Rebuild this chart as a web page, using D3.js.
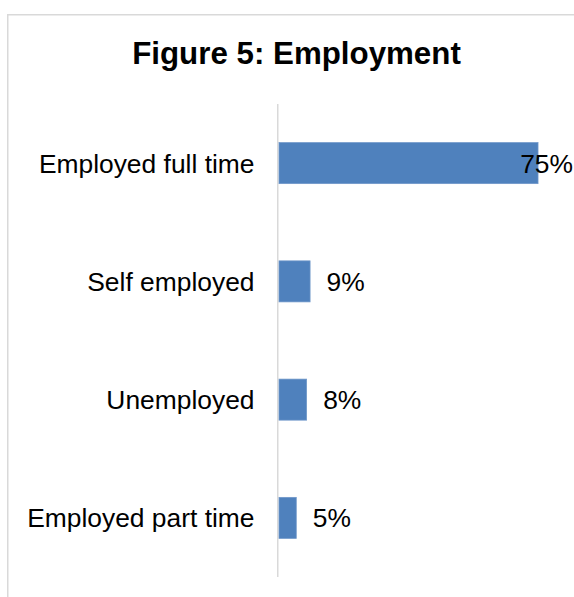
<!DOCTYPE html>
<html>
<head>
<meta charset="utf-8">
<script src="https://cdn.jsdelivr.net/npm/d3@7/dist/d3.min.js"></script>
<style>
  html, body { margin: 0; padding: 0; background: #fff; }
  svg { display: block; font-family: "Liberation Sans", Arial, sans-serif; }
</style>
</head>
<body>
<svg id="chart" width="574" height="597"></svg>
<script>
// Employment status shares
const categories = ["Employed full time", "Self employed", "Unemployed", "Employed part time"];
const shares = [0.75, 0.09, 0.08, 0.05];
const valueLabels = ["75%", "9%", "8%", "5%"];
const chartTitle = "Figure 5: Employment";

const W = 574, H = 597;
const svg = d3.select("#chart");

// chart frame
svg.append("rect")
  .attr("x", 7.75).attr("y", 14.75)
  .attr("width", 600).attr("height", 620)
  .attr("fill", "#fff")
  .attr("stroke", "#d9d9d9")
  .attr("stroke-width", 1.5);

// title
svg.append("text")
  .attr("x", 296.5).attr("y", 63.5)
  .attr("text-anchor", "middle")
  .attr("font-size", 31.3)
  .attr("font-weight", "bold")
  .attr("fill", "#000")
  .text(chartTitle);

const x = d3.scaleLinear().domain([0, 0.8]).range([279, 555.3]);
const y = d3.scaleBand()
  .domain(categories)
  .range([104, 577])
  .paddingInner(0.653)
  .paddingOuter(0.3265);

// category axis line
svg.append("line")
  .attr("x1", 277.75).attr("x2", 277.75)
  .attr("y1", 104).attr("y2", 577)
  .attr("stroke", "#d9d9d9")
  .attr("stroke-width", 1.5);

// category labels
svg.append("g").selectAll("text")
  .data(categories)
  .join("text")
  .attr("x", 254.5)
  .attr("y", d => y(d) + y.bandwidth() / 2)
  .attr("dy", "0.36em")
  .attr("text-anchor", "end")
  .attr("font-size", 26.4)
  .attr("fill", "#000")
  .text(d => d);

// bars
svg.append("g").selectAll("rect")
  .data(categories)
  .join("rect")
  .attr("x", x(0))
  .attr("y", d => y(d))
  .attr("width", (d, i) => x(shares[i]) - x(0))
  .attr("height", y.bandwidth())
  .attr("fill", "#4f81bd")
  .attr("stroke", "#6f97c9")
  .attr("stroke-width", 0.75);

// value labels, kept inside the chart frame
const rightLimit = W - 1;
svg.append("g").selectAll("text")
  .data(categories)
  .join("text")
  .attr("y", d => y(d) + y.bandwidth() / 2)
  .attr("dy", "0.36em")
  .attr("font-size", 26.4)
  .attr("fill", "#000")
  .text((d, i) => valueLabels[i])
  .attr("x", function (d, i) {
    const w = this.getComputedTextLength();
    return Math.min(x(shares[i]) + 16.5, rightLimit - w);
  });
</script>
</body>
</html>
